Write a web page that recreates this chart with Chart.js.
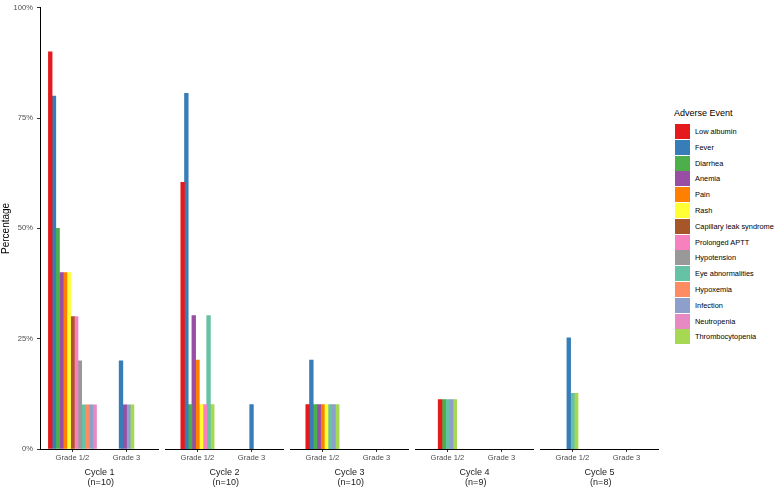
<!DOCTYPE html>
<html lang="en">
<head>
<meta charset="UTF-8">
<title>Adverse events by cycle</title>
<style>
  body { margin: 0; background: #fff; }
  #wrap { position: relative; width: 774px; height: 489px; overflow: hidden; font-family: "Liberation Sans", Arial, sans-serif; }
  #wrap canvas { position: absolute; top: 0; }
  #legendTitle { position: absolute; left: 674px; top: 108px; font-size: 9px; line-height: 11px; color: #000; }
  #legendItems { position: absolute; left: 675px; top: 123.6px; }
  .item { display: flex; align-items: center; height: 15.8px; }
  .key { width: 15px; height: 15px; margin-right: 5px; }
  .item span { font-size: 7.4px; color: #000; white-space: nowrap; }
</style>
</head>
<body>
<div id="wrap">
  <div id="legendTitle">Adverse Event</div>
  <div id="legendItems"></div>
</div>

<script src="https://cdn.jsdelivr.net/npm/chart.js"></script>
<script>
// adverse event names, in legend order
const series = ['Low albumin', 'Fever', 'Diarrhea', 'Anemia', 'Pain', 'Rash',
  'Capillary leak syndrome', 'Prolonged APTT', 'Hypotension', 'Eye abnormalities',
  'Hypoxemia', 'Infection', 'Neutropenia', 'Thrombocytopenia'];
const colors = ['#E41A1C', '#377EB8', '#4DAF4A', '#984EA3', '#FF7F00', '#FFFF33',
  '#A65628', '#F781BF', '#999999', '#66C2A5', '#FC8D62', '#8DA0CB', '#E78AC3', '#A6D854'];

const grades = ['Grade 1/2', 'Grade 3'];
const cycles = ['Cycle 1', 'Cycle 2', 'Cycle 3', 'Cycle 4', 'Cycle 5'];
const cycleN = ['(n=10)', '(n=10)', '(n=10)', '(n=9)', '(n=8)'];
const yTicks = [0, 25, 50, 75, 100];

// percentages per event (null = no bar)
const cycle1Grade12 = [90, 80, 50, 40, 40, 40, 30, 30, 20, 10, 10, 10, 10, null];
const cycle1Grade3  = [null, 20, null, 10, null, null, null, null, null, null, null, 10, null, 10];
const cycle2Grade12 = [60, 80, 10, 30, 20, 10, null, 10, null, 30, null, null, null, 10];
const cycle2Grade3  = [null, 10, null, null, null, null, null, null, null, null, null, null, null, null];
const cycle3Grade12 = [10, 20, 10, 10, 10, 10, null, null, null, 10, null, 10, null, 10];
const cycle3Grade3  = [null, null, null, null, null, null, null, null, null, null, null, null, null, null];
const cycle4Grade12 = [11.1, null, 11.1, null, null, null, null, null, null, 11.1, null, 11.1, null, 11.1];
const cycle4Grade3  = [null, null, null, null, null, null, null, null, null, null, null, null, null, null];
const cycle5Grade12 = [null, 25, null, null, null, null, null, null, null, 12.5, null, null, null, 12.5];
const cycle5Grade3  = [null, null, null, null, null, null, null, null, null, null, null, null, null, null];

const byCycle = [
  [cycle1Grade12, cycle1Grade3],
  [cycle2Grade12, cycle2Grade3],
  [cycle3Grade12, cycle3Grade3],
  [cycle4Grade12, cycle4Grade3],
  [cycle5Grade12, cycle5Grade3]
];

const FONT = '"Liberation Sans", Arial, sans-serif';
const AXIS_W = 40;
const PANEL_W = 119;
const GAP = 6;
const H = 489;

const wrap = document.getElementById('wrap');

function makePanel(i) {
  const withAxis = i === 0;
  const canvas = document.createElement('canvas');
  canvas.width = withAxis ? AXIS_W + PANEL_W : PANEL_W;
  canvas.height = H;
  canvas.style.left = (withAxis ? 0 : AXIS_W + i * (PANEL_W + GAP)) + 'px';
  wrap.appendChild(canvas);

  const [g12, g3] = byCycle[i];
  const datasets = series.map((name, s) => ({
    label: name,
    data: [{ x: 1, y: g12[s] }, { x: 2, y: g3[s] }],
    backgroundColor: colors[s],
    borderWidth: 0,
    barThickness: 3.7,
    skipNull: true
  }));

  new Chart(canvas, {
    type: 'bar',
    data: { datasets: datasets },
    options: {
      responsive: false,
      animation: false,
      layout: { padding: { top: 4.5, bottom: 0, left: 0, right: 0 } },
      plugins: { legend: { display: false }, tooltip: { enabled: false } },
      scales: {
        x: {
          type: 'linear',
          min: 0.4,
          max: 2.6,
          offset: false,
          afterBuildTicks: sc => { sc.ticks = grades.map((g, k) => ({ value: k + 1 })); },
          afterFit: sc => { sc.height = 40; },
          grid: { display: true, offset: false, drawOnChartArea: false, drawTicks: true, tickLength: 3, color: '#333' },
          border: { display: true, color: '#000', width: 1 },
          ticks: {
            callback: v => grades[v - 1],
            color: '#4d4d4d',
            font: { size: 7.6, family: FONT },
            padding: 1,
            maxRotation: 0,
            autoSkip: false
          },
          title: {
            display: true,
            text: [cycles[i], ' ' + cycleN[i]],
            color: '#1a1a1a',
            font: { size: 9, family: FONT, lineHeight: 1.1 },
            padding: { top: 0, bottom: 2 }
          }
        },
        y: {
          min: 0,
          max: 100,
          display: withAxis,
          afterBuildTicks: sc => { sc.ticks = yTicks.map(v => ({ value: v })); },
          afterFit: sc => { sc.width = withAxis ? AXIS_W : 0; },
          grid: { drawOnChartArea: false, drawTicks: true, tickLength: 3, color: '#333' },
          border: { display: true, color: '#000', width: 1 },
          ticks: {
            callback: v => v + '%',
            color: '#4d4d4d',
            font: { size: 7.6, family: FONT, lineHeight: 1 },
            padding: 4
          },
          title: {
            display: true,
            text: 'Percentage',
            color: '#000',
            font: { size: 10, family: FONT },
            padding: 0
          }
        }
      }
    }
  });
}

cycles.forEach((c, i) => makePanel(i));

// legend
const items = document.getElementById('legendItems');
series.forEach((name, s) => {
  const row = document.createElement('div');
  row.className = 'item';
  const key = document.createElement('div');
  key.className = 'key';
  key.style.background = colors[s];
  const label = document.createElement('span');
  label.textContent = name;
  row.appendChild(key);
  row.appendChild(label);
  items.appendChild(row);
});
</script>
</body>
</html>
